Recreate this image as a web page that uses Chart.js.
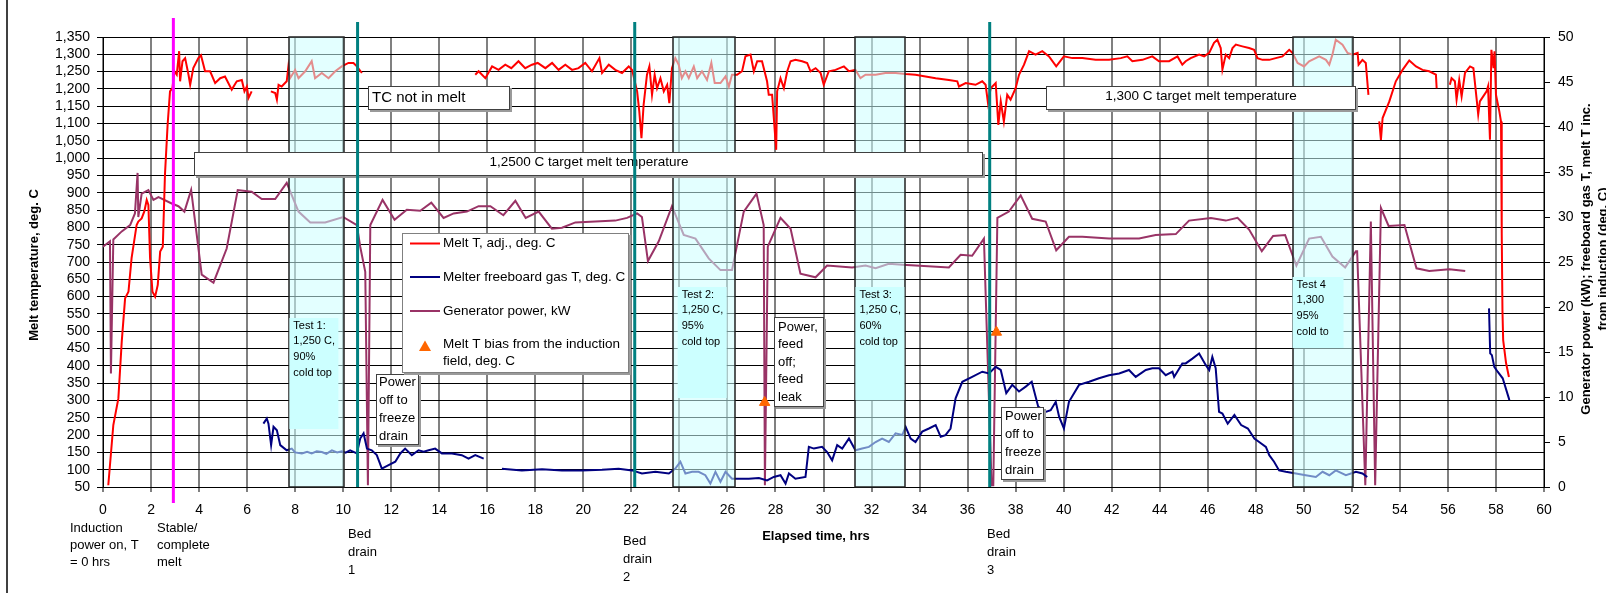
<!DOCTYPE html>
<html>
<head>
<meta charset="utf-8">
<script src="https://cdn.jsdelivr.net/npm/chart.js@4.4.1/dist/chart.umd.min.js"></script>
<style>
html, body { margin: 0; padding: 0; background: #fff; }
#wrap { width: 1606px; height: 593px; position: relative; }
</style>
</head>
<body>
<div id="wrap"><canvas id="myChart"></canvas></div>
<script>
const FONT = "'Liberation Sans', Arial, sans-serif";
Chart.defaults.font.family = FONT;
Chart.defaults.color = '#000';

// melt temperature, deg C (null = no reading)
const meltHours = [0.22,0.43,0.64,0.78,0.92,1.06,1.19,1.40,1.47,1.61,1.72,1.82,1.89,1.96,2.06,2.17,2.28,2.38,2.49,2.58,2.69,2.79,2.89,2.97,3.07,3.17,3.21,3.31,3.42,3.56,3.63,3.76,3.97,4.08,4.25,4.46,4.67,4.88,5.08,5.36,5.57,5.78,5.89,5.99,6.06,6.19,
  6.6,
  6.99,7.17,7.24,7.31,7.44,7.65,7.72,7.79,8.00,8.14,8.42,8.69,8.83,9.11,9.39,9.67,9.94,10.22,10.43,10.57,10.78,
  13,
  15.5,15.64,15.92,16.2,16.47,16.75,17.0,17.3,17.58,17.86,18.1,18.42,18.7,18.97,19.25,19.53,19.8,20.08,20.36,20.67,20.78,21.06,21.33,21.61,21.89,22.03,22.24,22.33,22.42,22.51,22.65,22.75,22.86,22.97,23.07,23.21,23.35,23.49,23.58,23.69,23.83,23.97,24.1,24.25,24.39,24.6,24.74,24.94,25.15,25.33,25.47,25.71,25.92,26.06,26.19,26.4,26.61,26.75,26.96,27.1,27.24,27.44,27.65,27.72,27.86,28.03,28.07,28.21,28.35,28.49,28.63,28.83,29.11,29.32,29.46,29.67,29.88,30.01,30.22,30.5,30.85,31.06,31.33,31.54,31.75,32.17,32.58,33.0,33.42,33.83,34.25,34.67,35.22,35.57,35.64,35.92,36.33,36.61,36.75,36.85,36.96,37.17,37.28,37.38,37.51,37.65,37.79,38.0,38.14,38.35,38.56,38.83,39.11,39.39,39.69,40.01,40.36,40.78,41.33,41.89,42.38,42.65,42.86,43.28,43.69,43.97,44.39,44.74,44.94,45.08,45.29,45.64,45.85,46.06,46.26,46.4,46.54,46.61,46.75,46.89,47.03,47.17,47.44,47.72,47.93,48.07,48.28,48.56,48.83,49.11,49.39,49.53,49.74,50.01,50.22,50.64,50.92,51.06,51.19,51.33,51.61,51.82,52.03,52.24,52.28,52.44,52.58,52.69,
  52.9,
  53.14,53.21,53.28,53.56,53.83,54.11,54.39,54.67,54.94,55.22,55.5,55.53,
  55.8,
  56.08,56.15,56.29,56.36,56.47,56.57,56.71,56.92,57.06,57.19,57.26,57.33,57.61,57.67,57.75,57.81,57.9,57.94,58.0,58.14,58.21,58.24,58.27,58.3,58.42,58.54];
const meltTemp = [55,229,306,470,595,614,711,807,817,826,846,879,865,711,614,600,634,730,744,952,1096,1193,1202,1251,1241,1309,1222,1280,1289,1241,1212,1260,1289,1297,1251,1251,1217,1231,1236,1198,1222,1226,1193,1207,1174,1193,
  null,
  1193,1188,1169,1212,1207,1222,1265,1231,1255,1231,1251,1280,1231,1246,1231,1251,1265,1275,1275,1265,1246,
  null,
  1241,1251,1231,1265,1255,1270,1260,1280,1260,1270,1275,1260,1275,1255,1270,1255,1260,1275,1251,1289,1246,1270,1255,1246,1265,1255,1193,1135,1058,1154,1241,1265,1183,1241,1202,1231,1193,1212,1159,1260,1289,1270,1231,1251,1231,1265,1231,1251,1226,1275,1217,1217,1236,1207,1241,1241,1251,1294,1299,1251,1280,1280,1222,1183,1183,1024,1193,1231,1202,1251,1280,1284,1280,1275,1251,1260,1246,1212,1251,1255,1265,1251,1255,1231,1241,1241,1246,1246,1243,1241,1236,1231,1226,1222,1207,1217,1212,1222,1212,1159,1202,1217,1096,1164,1106,1183,1169,1202,1241,1270,1309,1299,1309,1294,1265,1294,1289,1289,1284,1284,1289,1294,1280,1284,1294,1280,1280,1294,1270,1280,1289,1299,1294,1304,1333,1342,1318,1256,1299,1289,1318,1328,1323,1318,1313,1289,1284,1284,1289,1294,1313,1304,1275,1265,1280,1294,1284,1270,1299,1342,1328,1304,1299,1304,1270,1284,1275,1183,
  null,
  1106,1053,1116,1164,1222,1255,1282,1265,1255,1251,1241,1202,
  null,
  1212,1231,1222,1169,1226,1178,1246,1265,1260,1174,1126,1164,1193,1207,1053,1313,1260,1309,1183,1135,1106,783,560,474,408,368];

// freeboard gas temperature, deg C
const gasHours = [6.68,6.82,6.89,7.0,7.1,7.24,7.38,7.65,7.86,8.0,8.28,8.5,8.69,8.9,9.11,9.3,9.53,9.75,9.94,10.1,10.29,10.57,10.71,10.85,10.99,11.19,11.4,11.61,11.89,12.17,12.38,12.58,12.86,13.14,13.35,13.56,13.83,14.11,14.53,14.94,15.22,15.5,15.85,
  16.2,
  16.61,17.44,18.28,19.11,19.94,20.78,21.47,22.03,22.44,23.0,23.56,23.83,24.04,24.25,24.53,24.8,25.08,25.29,25.5,25.71,25.92,26.19,26.47,26.89,27.31,27.65,27.93,28.21,28.42,28.56,28.83,29.25,29.39,29.6,29.94,30.15,30.36,30.57,30.78,31.06,31.33,31.61,31.89,32.17,32.44,32.72,33.0,33.28,33.42,33.63,33.83,34.11,34.39,34.67,34.88,35.08,35.29,35.5,35.78,36.19,36.61,36.89,37.17,37.38,37.61,37.86,38.14,38.42,38.67,38.94,39.25,39.46,39.67,39.81,40.01,40.22,40.64,41.06,41.47,41.89,42.31,42.72,43.0,43.42,43.69,43.97,44.25,44.53,44.6,44.94,45.08,45.36,45.64,45.92,46.06,46.19,46.33,46.47,46.61,46.83,47.11,47.39,47.67,47.94,48.14,48.42,48.56,48.76,48.97,49.25,49.67,50.08,50.5,50.78,51.06,51.33,51.75,52.17,52.44,52.64,
  55,
  57.71,57.76,57.83,57.93,58.07,58.28,58.56];
const gasTemp = [233,248,233,171,224,214,171,156,161,150,147,152,147,153,151,146,156,150,153,149,156,147,190,205,161,156,142,103,113,123,147,161,142,156,152,156,161,147,147,142,132,142,132,
  null,
  103,98,101,98,98,100,103,98,89,94,89,103,123,89,94,94,84,60,94,65,94,74,74,74,76,69,79,84,60,89,74,79,166,161,166,151,127,171,161,190,156,161,166,180,190,180,205,200,224,190,180,210,219,229,195,200,219,306,354,368,383,378,397,388,321,345,326,340,354,282,267,272,296,253,219,296,345,354,364,373,378,388,368,388,393,393,373,383,368,407,407,421,436,402,388,426,393,267,262,233,258,229,219,190,180,166,142,123,98,94,89,84,79,94,84,98,84,94,89,79,
  null,
  566,436,431,397,383,364,301];

// generator power, kW
const powerHours = [0,0.29,0.33,0.43,0.78,1.13,1.33,1.44,1.47,1.61,1.89,2.1,2.31,2.86,3.14,3.39,3.67,4.11,4.6,5.15,5.61,6.19,6.61,7.17,7.65,8.14,8.63,9.25,10.0,10.57,10.71,10.92,11.03,11.13,11.64,12.14,12.65,13.21,13.67,14.18,14.6,15.15,15.64,16.13,16.67,17.17,17.6,18.14,18.69,19.11,19.67,20.5,21.33,21.82,22.24,22.44,22.69,23.14,23.69,24.18,24.67,25.22,25.71,26.19,26.68,27.21,27.51,27.56,27.68,28.21,28.63,29.04,29.67,30.15,31.19,31.75,32.17,32.72,33.28,33.83,35.22,35.71,36.19,36.68,37.0,37.07,37.24,37.72,38.21,38.69,39.25,39.69,40.22,40.78,41.89,43.14,43.83,44.67,45.22,46.13,46.75,47.24,47.72,48.25,48.72,49.22,49.69,50.22,50.71,51.19,51.72,52.17,52.22,52.56,52.79,52.97,53.21,53.53,54.19,54.69,55.22,56.06,56.72];
const powerKw = [26.7,27.3,12.6,27.5,28.4,29.1,30.4,34.9,30.0,32.6,33.0,31.9,32.2,31.5,31.2,30.6,33.0,23.6,22.7,26.5,33.0,32.8,32.0,32.0,33.8,30.6,29.4,29.4,30.0,29.1,26.7,23.9,0.2,29.1,31.9,29.7,30.8,30.7,31.6,29.9,30.4,30.6,31.2,31.2,30.2,31.8,29.9,30.6,28.7,28.8,29.4,29.5,29.6,29.9,30.4,30.0,25.1,27.3,31.2,28.0,27.6,25.4,24.1,24.1,30.6,32.6,29.1,0.2,26.7,29.9,28.7,23.7,23.3,24.6,24.4,24.6,24.3,24.8,24.7,24.6,24.4,25.8,25.7,27.6,0.2,0.2,29.9,30.6,32.4,29.8,29.5,26.3,27.8,27.8,27.6,27.6,28.0,28.1,29.6,29.9,29.6,29.9,28.6,26.2,27.9,28.0,24.6,27.6,27.8,25.6,24.4,26.2,26.2,0.2,29.5,0.2,31.0,29.0,29.1,24.3,24.0,24.2,24.0];

// melt T bias from the induction field, deg C (right axis)
const biasHours = [27.55, 37.2];
const biasValue = [9.4, 17.2];

const stableMeltHour = 2.93;
const bedDrainHours = [10.6, 22.14, 36.92];
const testStart = [7.76, 23.72, 31.33, 49.53];
const testEnd = [10.05, 26.3, 33.39, 52.03];
const testText = [
  ['Test 1:', '1,250 C,', '90%', 'cold top'],
  ['Test 2:', '1,250 C,', '95%', 'cold top'],
  ['Test 3:', '1,250 C,', '60%', 'cold top'],
  ['Test 4', '1,300', '95%', 'cold top']
];

function pairs(xs, ys) {
  return xs.map((x, i) => ({x: x, y: ys[i]}));
}

function textBox(ctx, x0, y0, x1, y1, border) {
  ctx.fillStyle = '#9a9a9a';
  ctx.fillRect(x0 + 2, y0 + 2, x1 - x0, y1 - y0);
  ctx.fillStyle = '#fff';
  ctx.fillRect(x0, y0, x1 - x0, y1 - y0);
  ctx.strokeStyle = border || '#404040';
  ctx.lineWidth = 1;
  ctx.strokeRect(x0 + 0.5, y0 + 0.5, x1 - x0 - 1, y1 - y0 - 1);
}

function writeLines(ctx, arr, x, y, step, font, align) {
  ctx.font = font;
  ctx.fillStyle = '#000';
  ctx.textAlign = align || 'left';
  ctx.textBaseline = 'middle';
  arr.forEach((t, i) => ctx.fillText(t, x, y + i * step));
}

const overlay = {
  id: 'overlay',
  afterDatasetsDraw(chart) {
    const ctx = chart.ctx, a = chart.chartArea, xs = chart.scales.x;
    ctx.save();

    // test windows, shaded over the traces
    testStart.forEach((s, i) => {
      const l = Math.round(xs.getPixelForValue(s));
      const r = Math.round(xs.getPixelForValue(testEnd[i]));
      ctx.fillStyle = 'rgba(204,255,255,0.55)';
      ctx.fillRect(l, a.top, r - l, a.bottom - a.top);
      ctx.strokeStyle = '#202020';
      ctx.lineWidth = 1.5;
      ctx.strokeRect(l, a.top, r - l, a.bottom - a.top);
    });

    // test captions
    const cap = [[0, 318, 49, 429, 49], [5, 287, 49, 398, 49], [0, 287, 49, 400, 49], [0, 277, 51, 348, 36]];
    cap.forEach((c, i) => {
      const l = xs.getPixelForValue(testStart[i]) + c[0];
      ctx.fillStyle = '#ccffff';
      ctx.fillRect(l, c[1], c[2], c[3] - c[1]);
      ctx.save();
      ctx.beginPath();
      ctx.rect(l, c[1], c[4], c[3] - c[1]);
      ctx.clip();
      writeLines(ctx, testText[i], l + 4, c[1] + 7.5, 15.7, '11px ' + FONT);
      ctx.restore();
    });

    // text boxes
    textBox(ctx, 368, 86, 510, 110);
    writeLines(ctx, ['TC not in melt'], 372, 97.5, 0, '15px ' + FONT);
    textBox(ctx, 194, 152, 983, 176);
    writeLines(ctx, ['1,2500 C target melt temperature'], 589, 162.5, 0, '13.5px ' + FONT, 'center');
    textBox(ctx, 1046, 86, 1356, 110);
    writeLines(ctx, ['1,300 C target melt temperature'], 1201, 96.5, 0, '13.5px ' + FONT, 'center');

    textBox(ctx, 376, 374, 419, 445);
    writeLines(ctx, ['Power', 'off to', 'freeze', 'drain'], 379, 382.5, 18, '13px ' + FONT);
    textBox(ctx, 774, 317, 824, 407);
    writeLines(ctx, ['Power,', 'feed', 'off;', 'feed', 'leak'], 778, 327, 17.6, '13px ' + FONT);
    textBox(ctx, 1001, 407, 1044, 480);
    writeLines(ctx, ['Power', 'off to', 'freeze', 'drain'], 1005, 416, 18, '13px ' + FONT);

    // legend
    textBox(ctx, 402, 233, 629, 373, '#808080');
    const keys = [['#ff0000', 'Melt T, adj., deg. C', 243.5], ['#000080', 'Melter freeboard gas T, deg. C', 277], ['#993366', 'Generator power, kW', 311]];
    keys.forEach(k => {
      ctx.strokeStyle = k[0];
      ctx.lineWidth = 2;
      ctx.beginPath();
      ctx.moveTo(410, k[2]);
      ctx.lineTo(440, k[2]);
      ctx.stroke();
      writeLines(ctx, [k[1]], 443, k[2], 0, '13.5px ' + FONT);
    });
    ctx.fillStyle = '#ff6600';
    ctx.beginPath();
    ctx.moveTo(425, 340.5);
    ctx.lineTo(431, 351);
    ctx.lineTo(419, 351);
    ctx.closePath();
    ctx.fill();
    writeLines(ctx, ['Melt T bias from the induction', 'field, deg. C'], 443, 344.5, 17, '13.5px ' + FONT);

    // stable melt and bed drain markers
    ctx.lineWidth = 3;
    ctx.strokeStyle = '#ff00ff';
    let px = xs.getPixelForValue(stableMeltHour);
    ctx.beginPath();
    ctx.moveTo(px, 18);
    ctx.lineTo(px, 503);
    ctx.stroke();
    ctx.strokeStyle = '#008080';
    bedDrainHours.forEach(h => {
      px = xs.getPixelForValue(h);
      ctx.beginPath();
      ctx.moveTo(px, 22);
      ctx.lineTo(px, a.bottom);
      ctx.stroke();
    });

    ctx.restore();
  },
  afterDraw(chart) {
    const ctx = chart.ctx;
    ctx.save();
    // frame edge
    ctx.strokeStyle = '#000';
    ctx.lineWidth = 1.5;
    ctx.beginPath();
    ctx.moveTo(7, 0);
    ctx.lineTo(7, 593);
    ctx.stroke();

    // axis titles
    ctx.save();
    ctx.translate(34, 265);
    ctx.rotate(-Math.PI / 2);
    writeLines(ctx, ['Melt temperature, deg. C'], 0, 0, 0, 'bold 13px ' + FONT, 'center');
    ctx.restore();
    ctx.save();
    ctx.translate(1586, 259);
    ctx.rotate(-Math.PI / 2);
    writeLines(ctx, ['Generator power (kW); freeboard gas T, melt T inc.', 'from induction (deg. C)'], 0, 0, 17, 'bold 13px ' + FONT, 'center');
    ctx.restore();
    writeLines(ctx, ['Elapsed time, hrs'], 816, 536, 0, 'bold 13px ' + FONT, 'center');

    // notes under the time axis
    const f = '13px ' + FONT;
    writeLines(ctx, ['Induction', 'power on, T', '= 0 hrs'], 70, 528.5, 17.2, f);
    writeLines(ctx, ['Stable/', 'complete', 'melt'], 157, 528.5, 17.2, f);
    writeLines(ctx, ['Bed', 'drain', '1'], 348, 534.5, 18.2, f);
    writeLines(ctx, ['Bed', 'drain', '2'], 623, 541, 18.2, f);
    writeLines(ctx, ['Bed', 'drain', '3'], 987, 534.5, 18.2, f);
    ctx.restore();
  }
};

new Chart(document.getElementById('myChart'), {
  type: 'line',
  data: {
    datasets: [
      {
        label: 'Melt T bias from the induction field, deg. C',
        data: pairs(biasHours, biasValue),
        yAxisID: 'y1',
        showLine: false,
        pointStyle: 'triangle',
        pointRadius: 6,
        pointBackgroundColor: '#ff6600',
        pointBorderColor: '#ff6600',
        order: 0
      },
      {
        label: 'Melt T, adj., deg. C',
        data: pairs(meltHours, meltTemp),
        yAxisID: 'y',
        borderColor: '#ff0000',
        borderWidth: 2,
        pointRadius: 0,
        order: 1
      },
      {
        label: 'Melter freeboard gas T, deg. C',
        data: pairs(gasHours, gasTemp),
        yAxisID: 'y',
        borderColor: '#000080',
        borderWidth: 2,
        pointRadius: 0,
        order: 2
      },
      {
        label: 'Generator power, kW',
        data: pairs(powerHours, powerKw),
        yAxisID: 'y1',
        borderColor: '#993366',
        borderWidth: 2,
        pointRadius: 0,
        order: 3
      }
    ]
  },
  options: {
    responsive: true,
    maintainAspectRatio: false,
    animation: false,
    layout: { padding: { top: 37, left: 0, right: 0, bottom: 0 } },
    elements: { line: { tension: 0 } },
    plugins: { legend: { display: false }, tooltip: { enabled: false } },
    scales: {
      x: {
        type: 'linear', min: 0, max: 60,
        afterFit: s => { s.height = 106; },
        ticks: { stepSize: 2, font: { size: 14 }, padding: 10, maxRotation: 0, autoSkip: false },
        grid: { color: '#808080', lineWidth: 2, tickLength: 5 },
        border: { color: '#000', width: 1 }
      },
      y: {
        position: 'left', min: 50, max: 1350,
        afterFit: s => { s.width = 103; },
        ticks: { stepSize: 50, font: { size: 14 }, padding: 7, autoSkip: false, callback: v => v.toLocaleString('en-US') },
        grid: { color: '#000', lineWidth: 1, tickLength: 6 },
        border: { color: '#000', width: 1 }
      },
      y1: {
        position: 'right', min: 0, max: 50,
        afterFit: s => { s.width = 62; },
        ticks: { stepSize: 5, font: { size: 14 }, padding: 8 },
        grid: { drawOnChartArea: false, color: '#000', tickLength: 6 },
        border: { color: '#000', width: 1 }
      }
    }
  },
  plugins: [overlay]
});
</script>
</body>
</html>
